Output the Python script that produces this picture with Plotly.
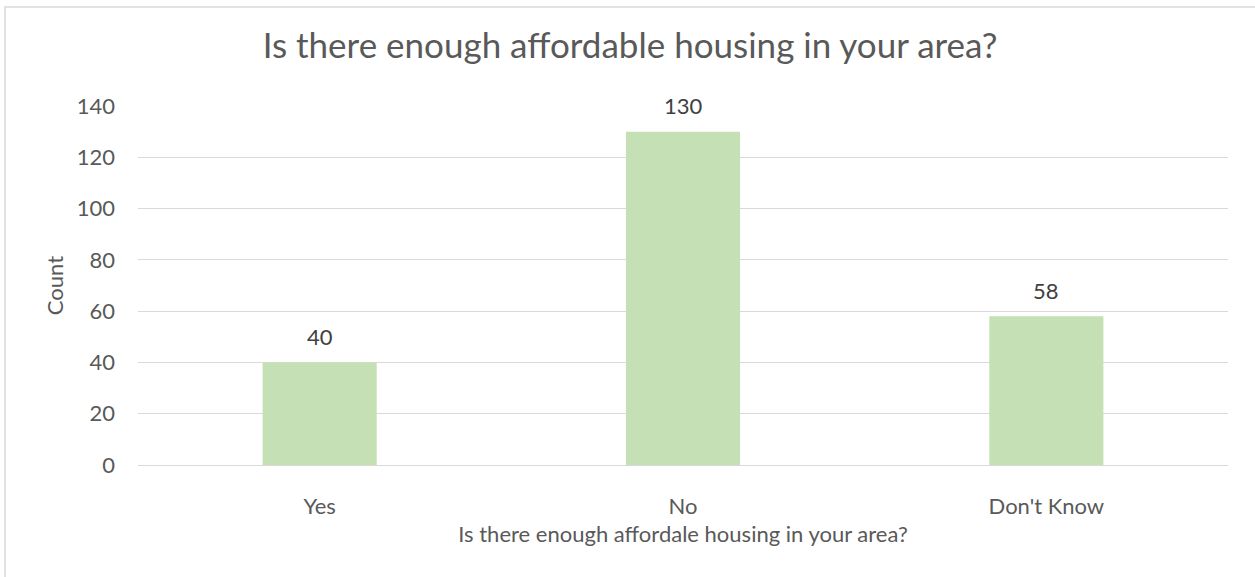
import plotly.graph_objects as go

categories = ["Yes", "No", "Don't Know"]
counts = [40, 130, 58]
y_ticks = [0, 20, 40, 60, 80, 100, 120, 140]

W, H = 1255, 577
L, R, T, B = 138, 27, 106, 112
FONT = "Lato, Calibri, Carlito, sans-serif"
TEXT = "#595959"
GRID = "#D9D9D9"

fig = go.Figure(
    go.Bar(
        x=categories,
        y=counts,
        width=0.314,
        marker=dict(color="#C5E0B4", line=dict(width=0)),
        hoverinfo="skip",
    )
)

# value labels above each bar
for c, v in zip(categories, counts):
    fig.add_annotation(
        x=c, y=v, text=str(v), showarrow=False, yshift=26,
        font=dict(family=FONT, size=22, color="#404040"),
    )

# outer chart frame
pw, ph = W - L - R, H - T - B
fig.add_shape(
    type="rect", xref="paper", yref="paper",
    x0=(5 - L) / pw, x1=(W + 20 - L) / pw,
    y0=(H - T - (H + 20)) / ph, y1=(H - B - 7) / ph,
    line=dict(color="#D9D9D9", width=1.5), layer="below",
)

fig.update_layout(
    width=W, height=H,
    margin=dict(l=L, r=R, t=T, b=B),
    paper_bgcolor="white", plot_bgcolor="white",
    font=dict(family=FONT, color=TEXT, size=22),
    title=dict(
        text="Is there enough affordable housing in your area?",
        x=0.502, xanchor="center", y=1 - 46 / H, yanchor="middle",
        font=dict(family=FONT, size=35, color=TEXT),
    ),
    showlegend=False,
)
fig.update_xaxes(
    showgrid=False, showline=False, ticks="",
    ticklabelstandoff=26,
    tickfont=dict(size=22, color=TEXT),
    title=dict(text="Is there enough affordale housing in your area?",
               font=dict(size=22, color=TEXT), standoff=8),
)
fig.update_yaxes(
    range=[0, 140], tickvals=y_ticks, showgrid=True, gridcolor=GRID,
    gridwidth=1.3, zeroline=True, zerolinecolor=GRID, zerolinewidth=1.3,
    ticks="", ticklabelstandoff=22,
    tickfont=dict(size=22, color=TEXT),
    title=dict(text="Count", font=dict(size=22, color=TEXT), standoff=7),
)

fig.write_html("out.html")
